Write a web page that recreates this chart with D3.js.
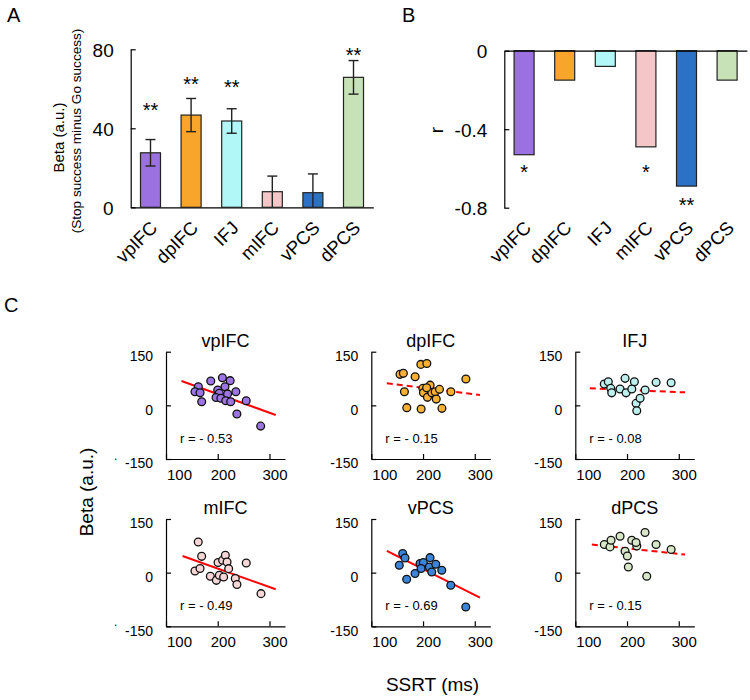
<!DOCTYPE html>
<html>
<head>
<meta charset="utf-8">
<script src="https://cdn.jsdelivr.net/npm/d3@7/dist/d3.min.js"></script>
<style>
  html, body { margin: 0; padding: 0; background: #fff; }
  svg { display: block; font-family: Arial, "Liberation Sans", sans-serif; }
  .axis path, .axis line { stroke: #000; stroke-width: 1.2; }
  .axis text { fill: #000; }
</style>
</head>
<body>
<svg id="chart" width="750" height="700"></svg>
<script>
// ---------------- DATA ----------------
const categories = ["vpIFC", "dpIFC", "IFJ", "mIFC", "vPCS", "dPCS"];
const betaMeans  = [27.6, 46.7, 43.7, 7.9, 7.4, 65.8];
const betaErrors = [6.7, 8.4, 6.2, 7.9, 9.5, 8.5];
const betaStars  = ["**", "**", "**", "", "", "**"];
const betaStarLevels = [45.6, 58.8, 57.2, null, null, 73.4];
const corrR      = [-0.53, -0.15, -0.08, -0.49, -0.69, -0.15];
const corrStars  = ["*", "", "", "*", "**", ""];
const corrStarLevels = [-0.655, null, null, -0.655, -0.824, null];
const barColors  = ["#9b70e0", "#f8a52c", "#b2f7f7", "#f4c6c8", "#2b72c6", "#c6e2b6"];
const dotColors  = ["#9c74e4", "#f8b132", "#bdefec", "#f6d6d6", "#3b85d8", "#d7e7c7"];
const betaTicks  = [0, 40, 80];
const rTicks     = [0, -0.4, -0.8];
const ssrtTicks  = [100, 200, 300];
const scatterBetaTicks = [-150, 0, 150];

const ssrt_vpIFC = [162.5, 156, 165.8, 169, 186.5, 209, 224, 214, 200, 203, 196.7, 206, 219, 235, 215.5, 225, 255, 237, 283];
const beta_vpIFC = [52, 38, 35, 10, 68, 77, 69, 52, 43, 34, 22, 20, 32, 38, 13, 10, 13, -24, -58];
const ssrt_dpIFC = [155.5, 162, 164, 168.6, 184.7, 195.7, 207.3, 196.3, 199.6, 200.8, 208.5, 213.7, 217, 223.5, 225.5, 231.8, 236.5, 253.8, 282.8, 207];
const beta_dpIFC = [86.7, 89.5, 38, -6.5, 80, 114.5, 117, -10, 47.5, 35, 22.4, 56.5, 35, 38, 17.5, 44.7, -8.4, 38, 73.5, 49];
const ssrt_IFJ   = [156, 163.8, 168.5, 170.4, 186.5, 196.2, 198.1, 209.2, 214.2, 217.5, 218.8, 225.2, 234.9, 256.2, 285.2];
const beta_IFJ   = [59.5, 66, 47.5, 35, 45.6, 75.5, 35, 45.6, 66, 5.6, -15, 19.6, 42.8, 64.3, 63.2];
const ssrt_mIFC  = [162.3, 168.9, 156, 165.8, 185.7, 197.3, 200.6, 203.1, 209.5, 214.7, 211.4, 218, 221.1, 233.9, 237.1, 255.1, 283.6];
const beta_mIFC  = [85.8, 45.6, 4.8, 11.5, -10, -21.5, 28.2, -7.3, 34.6, 48.6, -12.1, 29.6, 11.2, -16.5, -33.3, 27.1, -58.7];
const ssrt_vPCS  = [160.7, 165.1, 154.1, 168.4, 184.5, 194.2, 200.6, 196.2, 213.5, 212.2, 216.8, 224.6, 236.2, 253.6, 282.6];
const beta_vPCS  = [53.4, 41.1, 20.7, -18.5, -2.5, 25.4, 28.2, 11.5, 42, 16, 2, 23.5, 6.7, -35.2, -96];
const ssrt_dPCS  = [156.1, 167.1, 169.1, 186.5, 196.2, 200.6, 202.5, 209.1, 218.8, 217.4, 234.8, 238.1, 256.1, 285.2];
const beta_dPCS  = [78.6, 72, 90.6, 101.8, 59.8, 46.7, 16, 90.6, 74.7, 84.2, 112.1, -10, 78.6, 64.6];

const scatterSSRT = [ssrt_vpIFC, ssrt_dpIFC, ssrt_IFJ, ssrt_mIFC, ssrt_vPCS, ssrt_dPCS];
const scatterBeta = [beta_vpIFC, beta_dpIFC, beta_IFJ, beta_mIFC, beta_vPCS, beta_dPCS];
const fitStart  = [[130, 68], [130, 61.5], [128, 47.5], [132, 46.7], [130, 60.7], [132, 78.6]];
const fitEnd    = [[312, -27], [310, 28.8], [312, 36.3], [312, -46.4], [310, -69.6], [312, 50.6]];
const fitDashed = [false, true, true, false, false, true];
const rLabels   = ["r = - 0.53", "r = - 0.15", "r = - 0.08", "r = - 0.49", "r = - 0.69", "r = - 0.15"];

// ---------------- DRAW ----------------
const svg = d3.select("#chart");
const fmt = d => String(d);

function panelLabel(t, x, y) {
  svg.append("text").attr("x", x).attr("y", y).attr("font-size", 20).text(t);
}
panelLabel("A", 7, 22);
panelLabel("B", 402, 22);
panelLabel("C", 4, 312);

// ----- Panel A -----
const xA = d3.scaleBand().domain(categories).range([130.7, 373.3]).paddingInner(0.507).paddingOuter(0.241);
const yA = d3.scaleLinear().domain([0, 80]).range([207.3, 49.3]);
const gA = svg.append("g");

gA.append("g").attr("class", "axis").attr("transform", `translate(0,${yA(0)})`)
  .call(d3.axisBottom(xA).tickSize(0).tickFormat(""));
gA.append("g").attr("class", "axis").attr("transform", `translate(${xA.range()[0]},0)`)
  .call(d3.axisLeft(yA).tickValues(betaTicks).tickSizeInner(-5).tickSizeOuter(0).tickPadding(17).tickFormat(fmt))
  .call(g => g.selectAll("text").attr("font-size", 19).attr("dy", "0.36em"));

gA.selectAll("rect.bar").data(categories).join("rect")
  .attr("x", d => xA(d)).attr("width", xA.bandwidth())
  .attr("y", (d, i) => yA(betaMeans[i])).attr("height", (d, i) => yA(0) - yA(betaMeans[i]))
  .attr("fill", (d, i) => barColors[i]).attr("stroke", "#222").attr("stroke-width", 1.2);

const errG = gA.selectAll("g.err").data(categories).join("g");
errG.append("line")
  .attr("x1", d => xA(d) + xA.bandwidth() / 2).attr("x2", d => xA(d) + xA.bandwidth() / 2)
  .attr("y1", (d, i) => yA(betaMeans[i] + betaErrors[i])).attr("y2", (d, i) => yA(Math.max(0, betaMeans[i] - betaErrors[i])))
  .attr("stroke", "#222").attr("stroke-width", 1.4);
errG.append("line")
  .attr("x1", d => xA(d) + xA.bandwidth() / 2 - 5).attr("x2", d => xA(d) + xA.bandwidth() / 2 + 5)
  .attr("y1", (d, i) => yA(betaMeans[i] + betaErrors[i])).attr("y2", (d, i) => yA(betaMeans[i] + betaErrors[i]))
  .attr("stroke", "#222").attr("stroke-width", 1.4);
errG.filter((d, i) => betaMeans[i] - betaErrors[i] > 0).append("line")
  .attr("x1", d => xA(d) + xA.bandwidth() / 2 - 5).attr("x2", d => xA(d) + xA.bandwidth() / 2 + 5)
  .attr("y1", d => { const i = categories.indexOf(d); return yA(betaMeans[i] - betaErrors[i]); })
  .attr("y2", d => { const i = categories.indexOf(d); return yA(betaMeans[i] - betaErrors[i]); })
  .attr("stroke", "#222").attr("stroke-width", 1.4);

gA.selectAll("text.star").data(categories.filter((d, i) => betaStars[i])).join("text")
  .attr("class", "star")
  .attr("x", d => xA(d) + xA.bandwidth() / 2)
  .attr("y", d => yA(betaStarLevels[categories.indexOf(d)]))
  .attr("text-anchor", "middle").attr("font-size", 20)
  .text(d => betaStars[categories.indexOf(d)]);

gA.selectAll("text.xlab").data(categories).join("text")
  .attr("class", "xlab")
  .attr("transform", d => `translate(${xA(d) + xA.bandwidth() / 2 + 8},229) rotate(-45)`)
  .attr("text-anchor", "end").attr("font-size", 18.5).text(d => d);

gA.append("text").attr("transform", "translate(64,137.5) rotate(-90)")
  .attr("text-anchor", "middle").attr("font-size", 15).text("Beta (a.u.)");
gA.append("text").attr("transform", "translate(81,131) rotate(-90)")
  .attr("text-anchor", "middle").attr("font-size", 13.6).text("(Stop success minus Go success)");

// ----- Panel B -----
const xB = d3.scaleBand().domain(categories).range([504.3, 746.9]).paddingInner(0.507).paddingOuter(0.241);
const yB = d3.scaleLinear().domain([-0.8, 0]).range([207.7, 50.7]);
const gB = svg.append("g");

gB.selectAll("rect.bar").data(categories).join("rect")
  .attr("x", d => xB(d)).attr("width", xB.bandwidth())
  .attr("y", yB(0)).attr("height", (d, i) => yB(corrR[i]) - yB(0))
  .attr("fill", (d, i) => barColors[i]).attr("stroke", "#222").attr("stroke-width", 1.2);

gB.append("g").attr("class", "axis").attr("transform", `translate(0,${yB(0)})`)
  .call(d3.axisBottom(xB).tickSize(0).tickFormat(""));
gB.append("g").attr("class", "axis").attr("transform", `translate(${xB.range()[0]},0)`)
  .call(d3.axisLeft(yB).tickValues(rTicks).tickSizeInner(-5).tickSizeOuter(0).tickPadding(17).tickFormat(fmt))
  .call(g => g.selectAll("text").attr("font-size", 19).attr("dy", "0.36em"));

gB.selectAll("text.star").data(categories.filter((d, i) => corrStars[i])).join("text")
  .attr("x", d => xB(d) + xB.bandwidth() / 2)
  .attr("y", d => yB(corrStarLevels[categories.indexOf(d)]))
  .attr("text-anchor", "middle").attr("font-size", 20)
  .text(d => corrStars[categories.indexOf(d)]);

gB.selectAll("text.xlab").data(categories).join("text")
  .attr("transform", d => `translate(${xB(d) + xB.bandwidth() / 2 + 8},229) rotate(-45)`)
  .attr("text-anchor", "end").attr("font-size", 18.5).text(d => d);

gB.append("text").attr("transform", "translate(443,130) rotate(-90)")
  .attr("text-anchor", "middle").attr("font-size", 19).text("r");

// ----- Panel C -----
const colX0 = [166, 371.3, 575.3];
const rowTop = [351.7, 519];
const axW = 119, axH = 107.3;

categories.forEach((cat, i) => {
  const col = i % 3, row = Math.floor(i / 3);
  const x0 = colX0[col], top = rowTop[row];
  const x = d3.scaleLinear().domain([100, 330]).range([x0, x0 + axW]);
  const y = d3.scaleLinear().domain([-150, 150]).range([top + axH, top]);
  const g = svg.append("g");

  g.append("g").attr("class", "axis").attr("transform", `translate(0,${top + axH})`)
    .call(d3.axisBottom(x).tickValues(ssrtTicks).tickSizeInner(-5).tickSizeOuter(0).tickPadding(10).tickFormat(fmt))
    .call(a => a.selectAll("text").attr("font-size", 15).attr("dx", d => d === 100 ? 13 : 5));
  g.append("g").attr("class", "axis").attr("transform", `translate(${x0},0)`)
    .call(d3.axisLeft(y).tickValues(scatterBetaTicks).tickSizeInner(-5).tickSizeOuter(0).tickPadding(13).tickFormat(fmt))
    .call(a => a.selectAll("text").attr("font-size", 14).attr("dy", "0.64em"));

  g.append("line")
    .attr("x1", x(fitStart[i][0])).attr("y1", y(fitStart[i][1]))
    .attr("x2", x(fitEnd[i][0])).attr("y2", y(fitEnd[i][1]))
    .attr("stroke", "#ff0000").attr("stroke-width", 2)
    .attr("stroke-dasharray", fitDashed[i] ? "6,4" : null);

  g.selectAll("circle").data(scatterSSRT[i].map((s, k) => [s, scatterBeta[i][k]])).join("circle")
    .attr("cx", d => x(d[0])).attr("cy", d => y(d[1])).attr("r", 3.9)
    .attr("fill", dotColors[i]).attr("stroke", "#111").attr("stroke-width", 1.3);

  g.append("text").attr("x", x0 + axW / 2).attr("y", top - 5)
    .attr("text-anchor", "middle").attr("font-size", 18).text(cat);
  g.append("text").attr("x", x0 + 14).attr("y", top + axH - 16)
    .attr("font-size", 13).text(rLabels[i]);
});

svg.append("text").attr("transform", "translate(93,492) rotate(-90)")
  .attr("text-anchor", "middle").attr("font-size", 19).text("Beta (a.u.)");
svg.append("text").attr("x", 432.5).attr("y", 691)
  .attr("text-anchor", "middle").attr("font-size", 19).text("SSRT (ms)");
svg.append("text").attr("x", 114).attr("y", 460).attr("font-size", 12).text(".");
svg.append("text").attr("x", 114).attr("y", 626).attr("font-size", 12).text(".");
</script>
</body>
</html>
